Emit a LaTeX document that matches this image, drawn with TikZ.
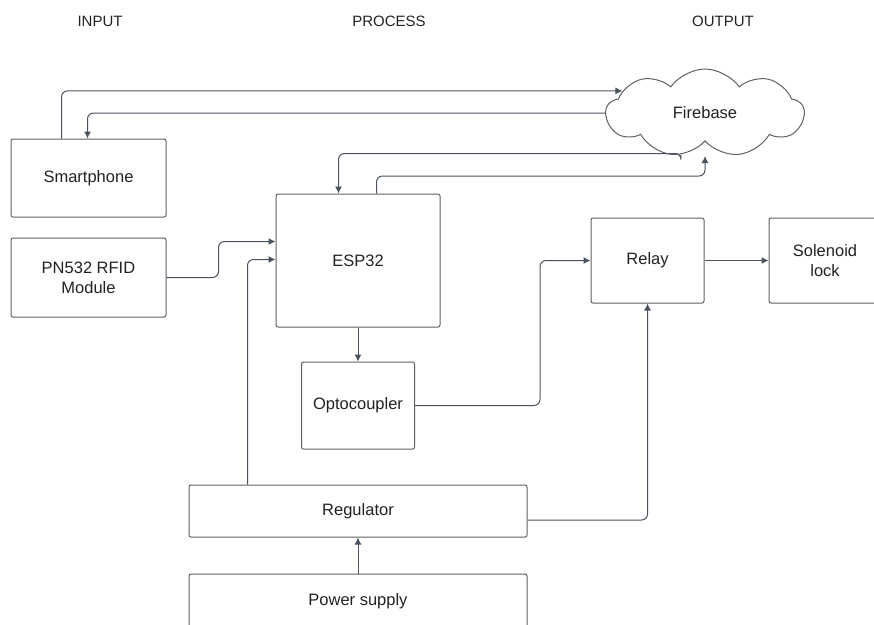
\documentclass[tikz,border=0pt]{standalone}
\usepackage{fontspec}
\setmainfont{Liberation Sans}
\usetikzlibrary{arrows.meta,calc,shapes.symbols}
\definecolor{wire}{RGB}{74,82,96}
\definecolor{edge}{RGB}{96,96,100}
\definecolor{ink}{RGB}{34,34,38}

\begin{document}
\begin{tikzpicture}
[
	x=1pt,y=-1pt,
	block/.style={draw=edge,line width=1pt,rounded corners=2pt,inner sep=2pt,align=center,text=ink,font=\fontsize{16.5}{20}\selectfont},
	conn/.style={draw=wire,line width=1pt,rounded corners=6pt,-{Latex[length=7pt,width=7pt]}},
	heading/.style={text=ink,font=\fontsize{15}{18}\selectfont}
]

	\useasboundingbox (0,0) rectangle (874,624);
	\clip (0,0) rectangle (874,624);

	% column titles
	\node[heading] (tin)  at (100,21) {INPUT};
	\node[heading] (tpro) at (389,21) {PROCESS};
	\node[heading] (tout) at (723,21) {OUTPUT};

	% blocks
	\node[block,minimum width=155,minimum height=78] (phone) at (88.5,178) {Smartphone};
	\node[block,minimum width=155,minimum height=79] (pn) at (88.5,277.5) {PN532 RFID\\Module};
	\node[block,minimum width=164,minimum height=133] (esp) at (358,260.5) {ESP32};
	\node[block,minimum width=113,minimum height=87] (opto) at (358,405.5) {Optocoupler};
	\node[block,minimum width=113,minimum height=85] (relay) at (647.5,260.5) {Relay};
	\node[block,minimum width=112,minimum height=85] (lock) at (825,260.5) {Solenoid\\lock};
	\node[block,minimum width=338,minimum height=52] (reg) at (358,511) {Regulator};
	\node[block,minimum width=338,minimum height=54] (supply) at (358,601) {Power supply};

	\node[cloud,draw=edge,line width=1pt,cloud puffs=9,cloud puff arc=110,aspect=2.3,
		minimum width=198,minimum height=88,inner sep=0pt,text=ink,
		font=\fontsize{16.5}{20}\selectfont] (fb) at (705,113) {Firebase};
	\coordinate (fbin) at ($(fb.center)+(0,43)$);

	% smartphone <-> firebase
	\draw[conn] ($(phone.north west)+(51,0)$) |- (fb.165);
	\draw[conn] (fb.west) -| ($(phone.north west)+(77,0)$);

	% esp32 <-> firebase
	\draw[conn] (fb.240) |- ($(esp.north west)+(63,-40)$) -- ($(esp.north west)+(63,0)$);
	\draw[conn] ($(esp.north west)+(101,0)$) |- ($(fbin)+(0,20)$) -- (fbin);

	% inputs to esp32
	\draw[conn] (pn.east) -- ++(52,0) |- ($(esp.north west)+(0,48)$);
	\draw[conn] ($(reg.north west)+(59,0)$) |- ($(esp.north west)+(0,66)$);

	% switching path
	\draw[conn] (esp.south) -- (opto.north);
	\draw[conn] (opto.east) -- ++(125,0) |- (relay.west);
	\draw[conn] (relay.east) -- (lock.west);

	% power
	\draw[conn] ($(reg.east)+(0,9)$) -| (relay.south);
	\draw[conn] (supply.north) -- (reg.south);

\end{tikzpicture}
\end{document}
